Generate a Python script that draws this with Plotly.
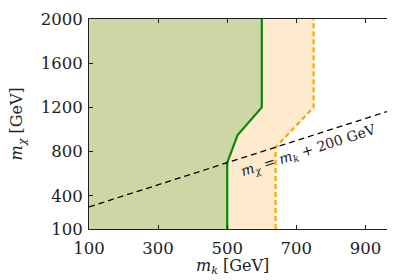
import plotly.graph_objects as go

# Data
green_x = [500, 500, 530, 600, 600]
green_y = [100, 700, 950, 1200, 2000]
orange_x = [640, 640, 750, 750]
orange_y = [100, 840, 1200, 2000]
line_x = [100, 1000]
line_offset = 200
x_ticks = [100, 300, 500, 700, 900]
y_ticks = [100, 400, 800, 1200, 1600, 2000]
x_range = [100, 1000]
y_range = [100, 2000]

line_y = [v + line_offset for v in line_x]
FONT = "DejaVu Serif"
TXT = "#222"

fig = go.Figure()

# green excluded region
gx = [x_range[0]] + green_x + [x_range[0]]
gy = [y_range[0]] + green_y + [y_range[1]]
fig.add_trace(go.Scatter(x=gx, y=gy, fill="toself", fillcolor="#cdd7a6",
                         line=dict(width=0), mode="lines", hoverinfo="skip"))
# orange band between the two curves
ox = green_x + orange_x[::-1]
oy = green_y + orange_y[::-1]
fig.add_trace(go.Scatter(x=ox, y=oy, fill="toself", fillcolor="#feebcd",
                         line=dict(width=0), mode="lines", hoverinfo="skip"))
# boundaries
fig.add_trace(go.Scatter(x=green_x, y=green_y, mode="lines",
                         line=dict(color="#0a870a", width=2.2)))
fig.add_trace(go.Scatter(x=orange_x, y=orange_y, mode="lines",
                         line=dict(color="#ffa500", width=2.2, dash="5px,3px")))
fig.add_trace(go.Scatter(x=line_x, y=line_y, mode="lines",
                         line=dict(color="black", width=1.3, dash="6px,4px")))

fig.add_annotation(x=735, y=810, xref="x", yref="y", showarrow=False,
                   text="<i>m</i><sub><i>χ</i></sub> = <i>m</i><sub><i>k</i></sub> + 200 GeV",
                   textangle=-17.8, font=dict(size=14, color=TXT, family=FONT))

# axis titles
fig.add_annotation(x=0.46, y=-0.178, xref="paper", yref="paper", showarrow=False,
                   yanchor="middle", xanchor="center",
                   text="<i>m</i><sub><i>k</i></sub> [GeV]",
                   font=dict(size=16, color=TXT, family=FONT))
fig.add_annotation(x=-0.23, y=0.5, xref="paper", yref="paper", showarrow=False,
                   yanchor="middle", xanchor="center", textangle=-90,
                   text="<i>m</i><sub><i>χ</i></sub> [GeV]",
                   font=dict(size=16, color=TXT, family=FONT))

axis_common = dict(showgrid=False, zeroline=False, showline=True, linecolor="#222",
                   linewidth=1, mirror="ticks", ticks="inside", ticklen=4,
                   tickcolor="#222", ticklabeloverflow="allow",
                   tickfont=dict(size=16.5, family=FONT, color=TXT))

fig.update_xaxes(range=x_range, tickvals=x_ticks, ticktext=[str(v) for v in x_ticks],
                 ticklabelstandoff=4, **axis_common)
fig.update_yaxes(range=y_range, tickvals=y_ticks, ticktext=[str(v) for v in y_ticks],
                 ticklabelstandoff=2, **axis_common)

fig.update_layout(width=395, height=280, showlegend=False,
                  margin=dict(l=81, r=2, t=9, b=59),
                  plot_bgcolor="white", paper_bgcolor="white")

fig.write_html("out.html")
